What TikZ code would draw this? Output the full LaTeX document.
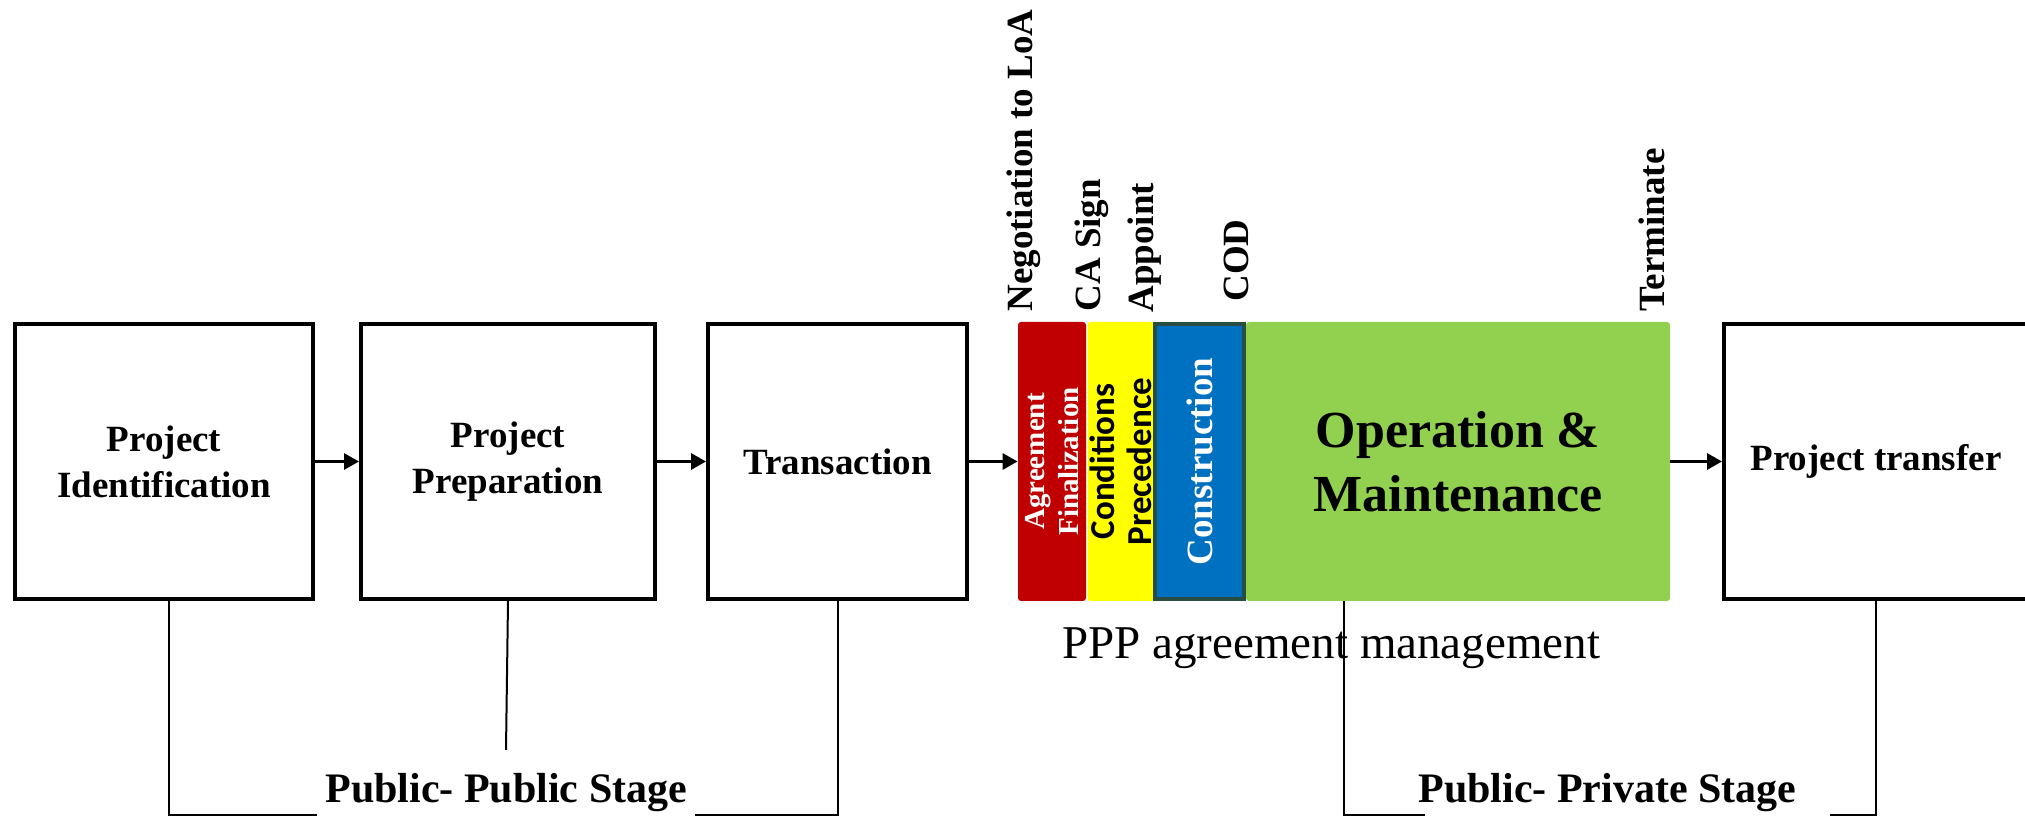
\documentclass[tikz,border=0pt]{standalone}
\usepackage{fontspec}
\setmainfont{Liberation Serif}
\newfontfamily\carl{Carlito}
\usetikzlibrary{arrows.meta}
\definecolor{agred}{HTML}{C00000}
\definecolor{agyellow}{HTML}{FFFF00}
\definecolor{agblue}{HTML}{0070C0}
\definecolor{agblueborder}{HTML}{284E44}
\definecolor{aggreen}{HTML}{92D050}
\begin{document}
\begin{tikzpicture}[x=0.5pt,y=0.5pt,
  stagebox/.style={draw=black, line width=2pt, fill=white, inner sep=0pt,
    minimum height=137.5pt, align=center,
    font=\fontsize{18.5}{23}\selectfont\bfseries},
  seg/.style={inner sep=0pt, align=center, rotate=90},
  flow/.style={line width=1.5pt, -{Triangle[length=7.5pt,width=8pt]}},
  brk/.style={line width=1pt},
  vlab/.style={rotate=90, anchor=base west, inner sep=0pt,
    font=\fontsize{18.5}{22}\selectfont\bfseries},
  stagelab/.style={inner sep=0pt, anchor=base west,
    font=\fontsize{21}{25}\selectfont\bfseries},
]
\clip (0,0) rectangle (2025,-817);
\fill[white] (0,0) rectangle (2025,-817);

% main boxes
\node[stagebox, minimum width=149pt] (b1) at (164,-461.5) {Project\\Identification};
\node[stagebox, minimum width=147pt] (b2) at (508,-461.5) {Project\\Preparation};
\node[stagebox, minimum width=129.5pt] (b3) at (837.5,-461.5) {Transaction};
\node[stagebox, minimum width=152pt] (b5) at (1876,-461.5) {Project transfer};

% coloured bar
\node[seg, fill=agred, rounded corners=1.5pt, minimum width=139.5pt, minimum height=34pt,
  text=white, font=\fontsize{14.5}{17}\selectfont\bfseries] (red) at (1052,-461.5)
  {Agreement\\Finalization};
\node[seg, fill=agyellow, rounded corners=1.5pt, minimum width=139.5pt, minimum height=33.5pt,
  font=\fontsize{17.5}{18.5}\selectfont\carl\bfseries] (yel) at (1121,-461.5)
  {Conditions\\Precedence};
\node[seg, fill=agblue, draw=agblueborder, line width=2pt, minimum width=137.5pt, minimum height=44.5pt,
  text=white, font=\fontsize{18.5}{22}\selectfont\bfseries] (blu) at (1199.5,-461.5)
  {Construction};
\node[inner sep=0pt, align=center, fill=aggreen, rounded corners=1.5pt, minimum width=212pt,
  minimum height=139.5pt, font=\fontsize{26}{32}\selectfont\bfseries] (grn) at (1458,-461.5)
  {Operation \&\\Maintenance};

% vertical milestone labels
\node[vlab] (neg) at (1032,-312) {Negotiation to LoA};
\node[vlab] (cas) at (1100,-312) {CA Sign};
\node[vlab] (app) at (1153,-313) {Appoint};
\node[vlab] (cod) at (1248,-302) {COD};
\node[vlab] (ter) at (1664,-312) {Terminate};

% flow arrows (red.north is the left side of the rotated segment)
\draw[flow] (b1.east) -- (b2.west);
\draw[flow] (b2.east) -- (b3.west);
\draw[flow] (b3.east) -- (red.north);
\draw[flow] (grn.east) -- (b5.west);

% PPP label
\coordinate (q1) at (1344,-815);
\coordinate (q2) at (1425,-815);
\coordinate (q3) at (1830,-815);
\draw[brk] (grn.south -| q1) |- (q2);
\draw[brk] (q3) -| (b5.south);
\node[inner sep=0pt, anchor=base west, font=\fontsize{23.5}{28}\selectfont] (ppp) at (1062,-659)
  {PPP agreement management};

% public-public bracket
\coordinate (p1) at (317,-815);
\coordinate (p2) at (695,-815);
\coordinate (pm) at (506,-750);
\draw[brk] ([xshift=2.5pt]b1.south) |- (p1);
\draw[brk] (p2) -| (b3.south);
\draw[brk] (b2.south) -- (pm);

\node[stagelab] (pubpub) at (325,-803) {Public- Public Stage};
\node[stagelab] (pubpriv) at (1418,-803) {Public- Private Stage};
\end{tikzpicture}
\end{document}
